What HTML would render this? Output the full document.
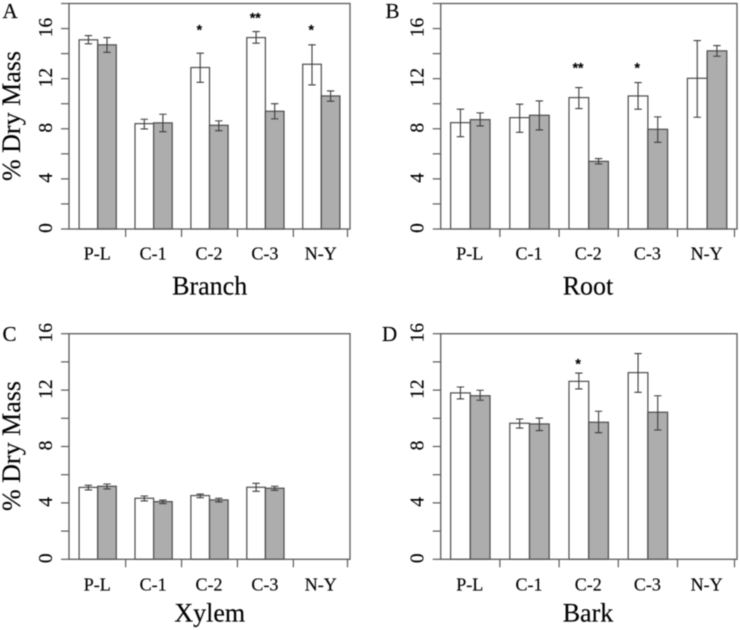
<!DOCTYPE html>
<html lang="en">
<head>
<meta charset="utf-8">
<title>% Dry Mass by tissue and genotype</title>
<style>
html,body{margin:0;padding:0;background:#fff;width:740px;height:630px;overflow:hidden}
svg{display:block;filter:blur(0.4px)}
text{font-family:"Liberation Serif",serif;fill:#000;stroke:#000;stroke-width:0.15px}
</style>
</head>
<body>
<svg id="figure" xmlns="http://www.w3.org/2000/svg" width="740" height="630" viewBox="0 0 740 630"></svg>
<script>
// ---- data ----
const categories = ['P-L', 'C-1', 'C-2', 'C-3', 'N-Y'];
const yTicksTopRow = [0, 2, 4, 6, 8, 10, 12, 14, 16, 18];
const yTicksBottomRow = [0, 2, 4, 6, 8, 10, 12, 14, 16];
const yLabelTicks = [0, 4, 8, 12, 16];

const branchWhite = [15.1, 8.41, 12.89, 15.28, 13.15];
const branchWhiteLow = [14.78, 7.99, 11.71, 14.83, 11.5];
const branchWhiteHigh = [15.44, 8.76, 14.03, 15.76, 14.7];
const branchGray = [14.7, 8.47, 8.28, 9.4, 10.62];
const branchGrayLow = [14.1, 7.77, 7.85, 8.79, 10.2];
const branchGrayHigh = [15.28, 9.16, 8.63, 10.0, 11.02];
const branchStars = ['', '', '*', '**', '*'];
const branchStarLevels = [null, null, 16, 16.95, 16];

const rootWhite = [8.49, 8.89, 10.49, 10.62, 12.03];
const rootWhiteLow = [7.37, 7.72, 9.61, 9.56, 8.92];
const rootWhiteHigh = [9.56, 9.96, 11.29, 11.69, 15.04];
const rootGray = [8.73, 9.08, 5.4, 7.96, 14.22];
const rootGrayLow = [8.23, 7.91, 5.19, 6.92, 13.79];
const rootGrayHigh = [9.27, 10.22, 5.62, 8.95, 14.64];
const rootStars = ['', '', '**', '*', ''];
const rootStarLevels = [null, null, 12.97, 12.97, null];

const xylemWhite = [5.1, 4.33, 4.52, 5.11, null];
const xylemWhiteLow = [4.92, 4.14, 4.37, 4.82, null];
const xylemWhiteHigh = [5.25, 4.49, 4.63, 5.39, null];
const xylemGray = [5.18, 4.09, 4.21, 5.04, null];
const xylemGrayLow = [4.99, 3.95, 4.07, 4.89, null];
const xylemGrayHigh = [5.34, 4.2, 4.33, 5.18, null];
const xylemStars = ['', '', '', '', ''];
const xylemStarLevels = [null, null, null, null, null];

const barkWhite = [11.8, 9.65, 12.62, 13.24, null];
const barkWhiteLow = [11.37, 9.31, 12.08, 11.84, null];
const barkWhiteHigh = [12.22, 9.95, 13.21, 14.59, null];
const barkGray = [11.6, 9.6, 9.72, 10.43, null];
const barkGrayLow = [11.28, 9.13, 8.98, 9.17, null];
const barkGrayHigh = [11.99, 10.02, 10.5, 11.6, null];
const barkStars = ['', '', '*', '', ''];
const barkStarLevels = [null, null, 13.95, null, null];

// ---- rendering ----
const NS = 'http://www.w3.org/2000/svg';
const LINE = '#4a4a4a';
const FRAME = '#5a5a5a';
const GRAY = '#adadad';
const root = document.getElementById('figure');

function make(tag, attrs, parent, text) {
  const el = document.createElementNS(NS, tag);
  for (const k in attrs) el.setAttribute(k, attrs[k]);
  if (text !== undefined) el.textContent = text;
  parent.appendChild(el);
  return el;
}

function drawPanel(p) {
  const g = make('g', {}, root);
  
  

  const yScale = v => p.bottom - (v / p.yMax) * (p.bottom - p.top);
  const xEdge = (i, side) => p.firstCentre + i * p.step + side * p.barWidth;

  // bars and error bars
  categories.forEach((cat, i) => {
    [[p.white, p.whiteLow, p.whiteHigh, '#ffffff', -1, 'white'],
     [p.gray, p.grayLow, p.grayHigh, GRAY, 0, 'gray']].forEach(s => {
      const v = s[0][i];
      if (v === null) return;
      const x = xEdge(i, s[4]);
      const bar = make('rect', {
        x: x, y: yScale(v), width: p.barWidth, height: p.bottom - yScale(v),
        fill: s[3], stroke: LINE, 'stroke-width': 1.2
      }, g);
      
      

      const cx = x + p.barWidth / 2;
      const yLow = yScale(s[1][i]);
      const yHigh = yScale(s[2][i]);
      const err = make('path', {
        d: 'M' + cx + ' ' + yLow + 'V' + yHigh +
           'M' + (cx - 3.7) + ' ' + yLow + 'H' + (cx + 3.7) +
           'M' + (cx - 3.7) + ' ' + yHigh + 'H' + (cx + 3.7),
        fill: 'none', stroke: '#3c3c3c', 'stroke-width': 1.1
      }, g);
      
      
    });

    if (p.starLevels[i] !== null) {
      const star = make('text', {
        x: xEdge(i, -0.5) - 0.8, y: yScale(p.starLevels[i]) + 5.8,
        'text-anchor': 'middle', 'font-size': 14, 'font-weight': 'bold',
        style: 'font-family:"Liberation Sans",sans-serif'
      }, g, p.stars[i]);
      
      
    }

    const lab = make('text', {
      x: p.firstCentre + i * p.step - 0.5, y: p.xLabelY,
      'text-anchor': 'middle', 'font-size': 18
    }, g, cat);
    
    

    const tickX = Math.min(p.firstCentre + (i + 0.5) * p.step, p.right - 2.5);
    const tick = make('line', {
      x1: tickX, x2: tickX, y1: p.bottom, y2: p.bottom + 8,
      stroke: FRAME, 'stroke-width': 1.2
    }, g);
    
    
  });

  // frame
  const frame = make('rect', {
    x: p.left, y: p.top, width: p.right - p.left, height: p.bottom - p.top,
    fill: 'none', stroke: FRAME, 'stroke-width': 1.3
  }, g);
  
  

  // y axis
  p.yTicks.forEach(t => {
    const tick = make('line', {
      x1: p.left - 8, x2: p.left, y1: yScale(t), y2: yScale(t),
      stroke: FRAME, 'stroke-width': 1.2
    }, g);
    
    
  });
  yLabelTicks.forEach(t => {
    const yy = yScale(t) - 1;
    const lab = make('text', {
      x: 0, y: 0, 'text-anchor': 'middle', 'font-size': 19.5,
      transform: 'translate(' + (p.left - 17) + ' ' + yy + ') rotate(-90)'
    }, g, String(t));
    
    
  });

  // titles
  const title = make('text', {
    x: p.titleX, y: p.titleY, 'text-anchor': 'middle', 'font-size': 26
  }, g, p.title);
  
  

  const letter = make('text', {
    x: p.letterX, y: p.letterY, 'font-size': 21
  }, g, p.letter);
  
  

  if (p.yTitleY !== null) {
    const yTitle = make('text', {
      x: 0, y: 0, 'text-anchor': 'middle', 'font-size': 26,
      transform: 'translate(20 ' + p.yTitleY + ') rotate(-90)'
    }, g, '% Dry Mass');
    
    
  }
}

const leftCol = { left: 69, right: 350, firstCentre: 97.7, step: 55.9, barWidth: 18.6, titleX: 209.7 };
const rightCol = { left: 440.7, right: 737, firstCentre: 470.3, step: 59.2, barWidth: 19.7, titleX: 588 };
const topRow = { top: 3.5, bottom: 229, yMax: 18, yTicks: yTicksTopRow, xLabelY: 259.5, titleY: 294.5, letterY: 18 };
const bottomRow = { top: 333.7, bottom: 559.3, yMax: 16, yTicks: yTicksBottomRow, xLabelY: 590.5, titleY: 621.5, letterY: 341 };

drawPanel(Object.assign({}, leftCol, topRow, {
  key: 'branch', title: 'Branch', letter: 'A', letterX: 2.5, yTitleY: 116,
  white: branchWhite, whiteLow: branchWhiteLow, whiteHigh: branchWhiteHigh,
  gray: branchGray, grayLow: branchGrayLow, grayHigh: branchGrayHigh,
  stars: branchStars, starLevels: branchStarLevels
}));
drawPanel(Object.assign({}, rightCol, topRow, {
  key: 'root', title: 'Root', letter: 'B', letterX: 385.5, yTitleY: null,
  white: rootWhite, whiteLow: rootWhiteLow, whiteHigh: rootWhiteHigh,
  gray: rootGray, grayLow: rootGrayLow, grayHigh: rootGrayHigh,
  stars: rootStars, starLevels: rootStarLevels
}));
drawPanel(Object.assign({}, leftCol, bottomRow, {
  key: 'xylem', title: 'Xylem', letter: 'C', letterX: 2.5, yTitleY: 446,
  white: xylemWhite, whiteLow: xylemWhiteLow, whiteHigh: xylemWhiteHigh,
  gray: xylemGray, grayLow: xylemGrayLow, grayHigh: xylemGrayHigh,
  stars: xylemStars, starLevels: xylemStarLevels
}));
drawPanel(Object.assign({}, rightCol, bottomRow, {
  key: 'bark', title: 'Bark', letter: 'D', letterX: 382, yTitleY: null,
  white: barkWhite, whiteLow: barkWhiteLow, whiteHigh: barkWhiteHigh,
  gray: barkGray, grayLow: barkGrayLow, grayHigh: barkGrayHigh,
  stars: barkStars, starLevels: barkStarLevels
}));
</script>
</body>
</html>
